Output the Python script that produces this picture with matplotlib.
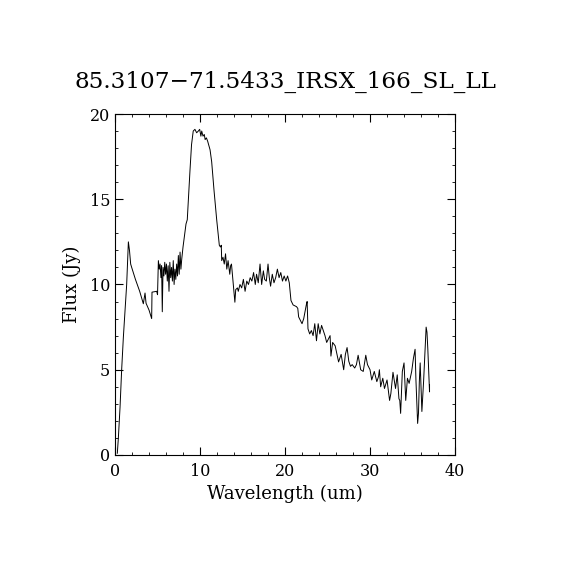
import matplotlib
matplotlib.use("Agg")
import matplotlib.pyplot as plt
from matplotlib.ticker import MultipleLocator

plt.rcParams['font.family'] = ['DejaVu Serif']

title = "85.3107\u221271.5433_IRSX_166_SL_LL"

# spectrum, (wavelength um, flux Jy)
spectrum = [
    (0.27, 0.1), (0.39, 0.98), (0.59, 2.8), (0.78, 5.0), (0.98, 6.9), (1.18, 8.5),
    (1.37, 10.0), (1.57, 12.5), (1.70, 12.0), (1.84, 11.2), (1.96, 11.0),
    (2.4, 10.3), (2.9, 9.6), (3.33, 8.87), (3.53, 9.5), (3.65, 8.9), (4.0, 8.5),
    (4.31, 8.0), (4.35, 9.55), (4.9, 9.6), (5.0, 9.4), (5.1, 11.4), (5.2, 10.9),
    (5.3, 11.2), (5.4, 10.4), (5.48, 11.1), (5.56, 8.4), (5.65, 11.0), (5.75, 10.5),
    (5.85, 11.3), (5.95, 10.6), (6.05, 11.2), (6.15, 10.2), (6.25, 11.1), (6.35, 9.6),
    (6.45, 11.3), (6.55, 10.4), (6.65, 11.0), (6.75, 10.2), (6.85, 11.4), (6.95, 10.0),
    (7.05, 10.9), (7.15, 10.3), (7.25, 11.2), (7.35, 10.5), (7.45, 11.7), (7.55, 10.6),
    (7.65, 11.9), (7.75, 10.9), (7.85, 11.5), (8.0, 12.2), (8.35, 13.55),
    (8.5, 13.8), (8.82, 16.7), (9.0, 18.2), (9.2, 19.0), (9.4, 19.1), (9.6, 18.9),
    (9.8, 19.0), (9.96, 19.1), (10.1, 18.7), (10.2, 19.0), (10.35, 18.7), (10.5, 18.8),
    (10.6, 18.5), (10.75, 18.6), (10.9, 18.4), (11.18, 17.9), (11.37, 17.2),
    (11.65, 15.5), (11.96, 13.8), (12.27, 12.3), (12.4, 12.2), (12.5, 12.3),
    (12.55, 11.4), (12.7, 11.6), (12.85, 11.2), (13.0, 11.8), (13.15, 10.9),
    (13.3, 11.4), (13.5, 10.6), (13.6, 11.1), (13.7, 11.2), (14.1, 8.96), (14.2, 9.7),
    (14.4, 9.8), (14.5, 9.6), (14.7, 10.0), (14.9, 9.8), (15.1, 10.3), (15.3, 9.6),
    (15.5, 10.2), (15.7, 10.0), (15.9, 10.4), (16.1, 10.2), (16.3, 10.7), (16.5, 10.0),
    (16.65, 10.6), (16.85, 10.1), (17.06, 11.2), (17.25, 10.0), (17.45, 10.8),
    (17.6, 10.3), (17.8, 10.2), (18.0, 11.2), (18.15, 10.4), (18.3, 9.9), (18.5, 10.6),
    (18.7, 10.1), (18.9, 10.4), (19.1, 10.9), (19.3, 10.4), (19.5, 10.7), (19.7, 10.2),
    (19.9, 10.5), (20.1, 10.2), (20.3, 10.5), (20.5, 10.1), (20.7, 9.06), (20.95, 8.8),
    (21.35, 8.7), (21.5, 8.6), (21.6, 8.1), (22.0, 7.7), (22.2, 8.0), (22.5, 8.8),
    (22.6, 9.0), (22.7, 7.4), (22.9, 7.1), (23.1, 7.3), (23.3, 7.0), (23.5, 7.7),
    (23.7, 6.7), (23.9, 7.7), (24.1, 7.1), (24.3, 7.6), (24.5, 7.3), (24.7, 7.0),
    (24.9, 6.6), (25.3, 7.0), (25.4, 5.8), (25.6, 6.6), (25.9, 6.4), (26.3, 5.46),
    (26.6, 5.9), (26.9, 5.0), (27.1, 5.9), (27.3, 6.3), (27.5, 5.5), (27.7, 5.2),
    (27.9, 5.3), (28.2, 5.1), (28.4, 5.3), (28.6, 5.85), (28.9, 5.0), (29.2, 4.9),
    (29.5, 5.85), (29.7, 5.3), (30.0, 5.0), (30.2, 4.4), (30.5, 4.9), (30.8, 4.3),
    (31.0, 4.6), (31.1, 5.0), (31.25, 4.0), (31.5, 4.5), (31.7, 3.9), (32.0, 4.4),
    (32.3, 3.2), (32.45, 3.6), (32.7, 4.85), (33.0, 3.9), (33.2, 4.7), (33.4, 3.3),
    (33.5, 3.2), (33.6, 2.44), (33.8, 4.9), (34.0, 5.4), (34.2, 3.2), (34.4, 4.5),
    (34.6, 4.2), (34.9, 4.9), (35.1, 5.65), (35.3, 6.2), (35.4, 4.4), (35.6, 1.85),
    (35.7, 2.45), (35.8, 4.3), (35.9, 5.4), (36.1, 2.55), (36.3, 4.3), (36.6, 7.5),
    (36.7, 7.2), (36.8, 6.2), (37.0, 3.7), (37.0, 4.1),
]
wavelength = [p[0] for p in spectrum]
flux = [p[1] for p in spectrum]

fig = plt.figure(figsize=(5.7, 5.7), dpi=100)
ax = fig.add_axes([0.2018, 0.2018, 0.5965, 0.5982])
ax.plot(wavelength, flux, c='black', lw=0.7)

ax.set_xlim(0, 40)
ax.set_ylim(0, 20)
ax.xaxis.set_major_locator(MultipleLocator(10))
ax.xaxis.set_minor_locator(MultipleLocator(2))
ax.yaxis.set_major_locator(MultipleLocator(5))
ax.yaxis.set_minor_locator(MultipleLocator(1))
ax.tick_params(which='both', direction='in', top=True, right=True, labelsize=11.5)
ax.tick_params(which='major', length=5.5)
ax.tick_params(which='minor', length=2.5)
ax.tick_params(axis='x', which='major', pad=6)
for s in ax.spines.values():
    s.set_linewidth(0.8)

ax.set_xlabel("Wavelength (um)", fontsize=13, labelpad=3)
ax.set_ylabel("Flux (Jy)", fontsize=13, labelpad=6)
fig.text(0.5, 0.856, title, ha='center', va='center', fontsize=16.7)

fig.savefig("out.png", dpi=100)
